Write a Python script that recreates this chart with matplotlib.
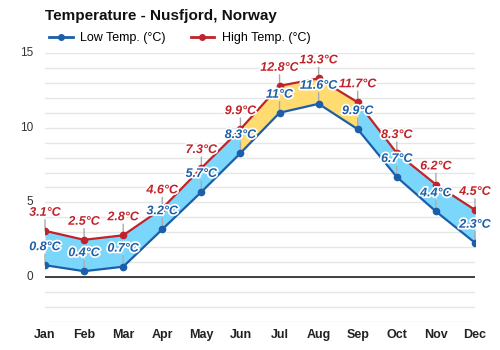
import numpy as np
import matplotlib.pyplot as plt
import matplotlib.patheffects as pe
from matplotlib.lines import Line2D

plt.rcParams['font.family'] = ['Liberation Sans', 'DejaVu Sans']

months = ["Jan", "Feb", "Mar", "Apr", "May", "Jun",
          "Jul", "Aug", "Sep", "Oct", "Nov", "Dec"]
low_temps = [0.8, 0.4, 0.7, 3.2, 5.7, 8.3, 11, 11.6, 9.9, 6.7, 4.4, 2.3]
high_temps = [3.1, 2.5, 2.8, 4.6, 7.3, 9.9, 12.8, 13.3, 11.7, 8.3, 6.2, 4.5]
y_ticks = [0, 5, 10, 15]

LOW_COLOR = "#1c5ea9"
HIGH_COLOR = "#c0232b"
COLD_FILL = "#7ad6fb"
WARM_FILL = "#ffdb70"

x = np.arange(len(months))
low = np.array(low_temps)
high = np.array(high_temps)

fig = plt.figure(figsize=(5, 3.5), dpi=100)
ax = fig.add_axes([0.09, 0.08, 0.86, 0.7686])

# band between the two lines, one segment at a time
for i in range(len(x) - 1):
    warm = min(high[i], high[i + 1]) >= 9.5
    ax.fill_between(x[i:i + 2], low[i:i + 2], high[i:i + 2],
                    color=WARM_FILL if warm else COLD_FILL,
                    linewidth=0, zorder=2)

ax.plot(x, low, color=LOW_COLOR, lw=1.6, marker="o", ms=4.5, zorder=4)
ax.plot(x, high, color=HIGH_COLOR, lw=1.6, marker="o", ms=4.5, zorder=4)

outline = [pe.withStroke(linewidth=2.5, foreground="white")]
for xi, lo, hi in zip(x, low, high):
    for val, col in ((hi, HIGH_COLOR), (lo, LOW_COLOR)):
        ax.annotate("", xy=(xi, val), xytext=(0, 8), textcoords="offset points",
                    arrowprops=dict(arrowstyle="-", color="#aaaaaa", lw=1,
                                    shrinkA=0, shrinkB=0), zorder=3)
        ax.annotate(f"{val:g}°C", xy=(xi, val), xytext=(0, 13),
                    textcoords="offset points", ha="center", va="center",
                    color=col, fontsize=9, fontweight="bold", style="italic",
                    path_effects=outline, zorder=6)

ax.set_xlim(0, 11)
ax.set_ylim(-3, 15)
ax.set_yticks([])
for yv in range(-3, 16):
    ax.axhline(yv, color="#e6e6e6", lw=1, zorder=0)
ax.axhline(0, color="#222222", lw=1.2, zorder=1)
for yv in y_ticks:
    ax.text(-0.3, yv, str(yv), ha="right", va="center", fontsize=8.5, color="#333333")

ax.set_xticks(x)
ax.set_xticklabels(months, fontsize=9, fontweight="bold", color="#222222")
ax.tick_params(axis="x", length=0, pad=5)
for s in ax.spines.values():
    s.set_visible(False)

fig.text(0.09, 0.955, "Temperature - Nusfjord, Norway", fontsize=11,
         fontweight="bold", ha="left", va="center", color="#111111")

handles = [
    Line2D([], [], color=LOW_COLOR, lw=2, marker="o", ms=4),
    Line2D([], [], color=HIGH_COLOR, lw=2, marker="o", ms=4),
]
fig.legend(handles, ["Low Temp. (°C)", "High Temp. (°C)"], loc="center left",
           bbox_to_anchor=(0.075, 0.89), ncol=2, frameon=False, fontsize=9,
           handlelength=1.9, columnspacing=2.0, handletextpad=0.6)

fig.savefig("out.png", dpi=100)
